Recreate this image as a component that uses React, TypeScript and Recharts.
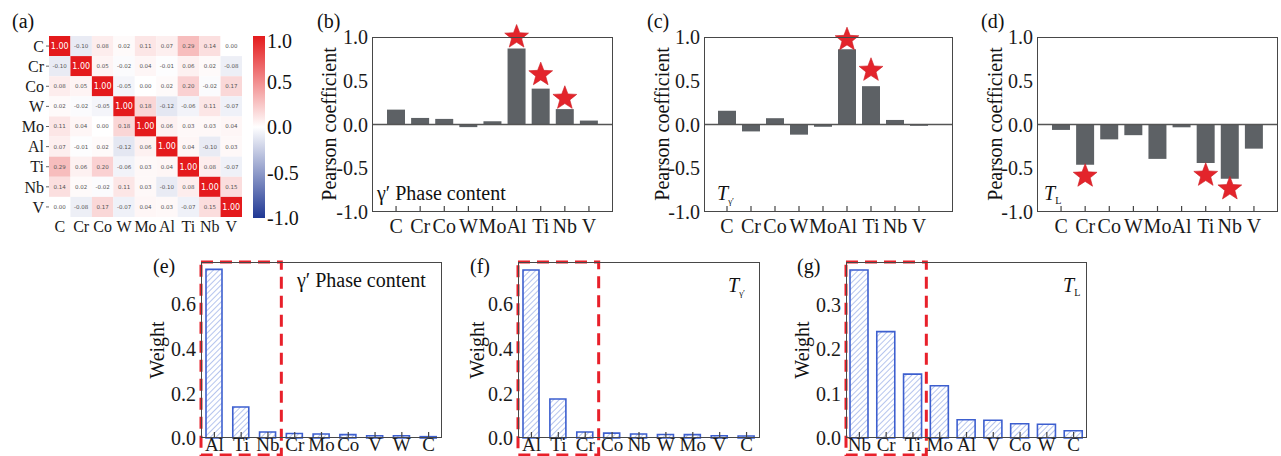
import React from 'react';
import {
  ComposedChart,
  BarChart,
  ScatterChart,
  Bar,
  Line,
  Scatter,
  XAxis,
  YAxis,
  ReferenceLine,
  ReferenceArea
} from 'recharts';

// element order used by the heatmap and the Pearson panels
const elements = ['C', 'Cr', 'Co', 'W', 'Mo', 'Al', 'Ti', 'Nb', 'V'];

// (a) correlation matrix, one row per element
const corrC = [1.0, -0.1, 0.08, 0.02, 0.11, 0.07, 0.29, 0.14, 0.0];
const corrCr = [-0.1, 1.0, 0.05, -0.02, 0.04, -0.01, 0.06, 0.02, -0.08];
const corrCo = [0.08, 0.05, 1.0, -0.05, 0.0, 0.02, 0.2, -0.02, 0.17];
const corrW = [0.02, -0.02, -0.05, 1.0, 0.18, -0.12, -0.06, 0.11, -0.07];
const corrMo = [0.11, 0.04, 0.0, 0.18, 1.0, 0.06, 0.03, 0.03, 0.04];
const corrAl = [0.07, -0.01, 0.02, -0.12, 0.06, 1.0, 0.04, -0.1, 0.03];
const corrTi = [0.29, 0.06, 0.2, -0.06, 0.03, 0.04, 1.0, 0.08, -0.07];
const corrNb = [0.14, 0.02, -0.02, 0.11, 0.03, -0.1, 0.08, 1.0, 0.15];
const corrV = [0.0, -0.08, 0.17, -0.07, 0.04, 0.03, -0.07, 0.15, 1.0];
const corrRows = [corrC, corrCr, corrCo, corrW, corrMo, corrAl, corrTi, corrNb, corrV];
const colorbarTicks = ['1.0', '0.5', '0.0', '-0.5', '-1.0'];

// (b)-(d) Pearson coefficients and star markers
const pearsonPhase = [0.17, 0.075, 0.064, -0.03, 0.037, 0.87, 0.41, 0.176, 0.045];
const starPhase = [null, null, null, null, null, 1.0, 0.57, 0.3, null];
const pearsonTgp = [0.157, -0.079, 0.072, -0.116, -0.026, 0.861, 0.438, 0.052, -0.015];
const starTgp = [null, null, null, null, null, 0.97, 0.62, null, null];
const pearsonTL = [-0.062, -0.46, -0.17, -0.122, -0.393, -0.032, -0.44, -0.62, -0.276];
const starTL = [null, -0.59, null, null, null, null, -0.58, -0.735, null];
const pearsonTicks = [-1, -0.5, 0, 0.5, 1];

// (e)-(g) weights, sorted
const namesE = ['Al', 'Ti', 'Nb', 'Cr', 'Mo', 'Co', 'V', 'W', 'C'];
const weightE = [0.757, 0.139, 0.027, 0.02, 0.018, 0.015, 0.01, 0.01, 0.006];
const namesF = ['Al', 'Ti', 'Cr', 'Co', 'Nb', 'W', 'Mo', 'V', 'C'];
const weightF = [0.754, 0.175, 0.027, 0.022, 0.018, 0.016, 0.015, 0.01, 0.009];
const namesG = ['Nb', 'Cr', 'Ti', 'Mo', 'Al', 'V', 'Co', 'W', 'C'];
const weightG = [0.379, 0.24, 0.144, 0.118, 0.041, 0.04, 0.032, 0.031, 0.0165];

const SERIF = '"Liberation Serif", "Times New Roman", serif';
const tickStyle = { fontSize: 20, fill: '#1a1a1a', fontFamily: SERIF };

function heatColor(v: number) {
  const a = Math.min(1, Math.abs(v));
  const end = v >= 0 ? [228, 26, 28] : [32, 56, 148];
  const c = end.map((e) => Math.round(255 + (e - 255) * a));
  return `rgb(${c.join(',')})`;
}

function starPath(cx: number, cy: number, ro: number, ri: number) {
  let d = '';
  for (let i = 0; i < 10; i++) {
    const r = i % 2 ? ri : ro;
    const a = -Math.PI / 2 + (i * Math.PI) / 5;
    d += (i ? 'L' : 'M') + (cx + r * Math.cos(a)).toFixed(2) + ',' + (cy + r * Math.sin(a)).toFixed(2);
  }
  return d + 'Z';
}

const StarDot = (props: any) => {
  const { cx, cy, value, index } = props;
  if (value == null || cx == null || cy == null || isNaN(cy)) return <g key={`s${index}`} />;
  return <path key={`s${index}`} d={starPath(cx, cy, 12.5, 5.3)} fill="#e3242b" stroke="#cc1d24" strokeWidth={0.6} />;
};

const Txt = ({ x, y, size = 20, children, style }: any) => (
  <div
    style={{
      position: 'absolute',
      left: x,
      top: y - size / 2,
      fontSize: size,
      lineHeight: `${size}px`,
      whiteSpace: 'nowrap',
      fontFamily: SERIF,
      color: '#111',
      ...style
    }}
  >
    {children}
  </div>
);

const VLabel = ({ x, y, children }: any) => (
  <div
    style={{
      position: 'absolute',
      left: x,
      top: y,
      fontSize: 20,
      lineHeight: '20px',
      whiteSpace: 'nowrap',
      fontFamily: SERIF,
      color: '#111',
      transform: 'translate(-50%, -50%) rotate(-90deg)'
    }}
  >
    {children}
  </div>
);

const Frame = ({ left, top, width, height }: any) => (
  <div
    style={{
      position: 'absolute',
      left,
      top,
      width,
      height,
      boxSizing: 'border-box',
      border: '1.5px solid #474747',
      pointerEvents: 'none'
    }}
  />
);

// ---------- (a) heatmap ----------
const HM_W = 250;
const HM_H = 240;
const HM_YW = 49;
const HM_TOP = 36;
const HM_PLOT_W = 193;
const HM_PLOT_H = 181;

const HeatCell = (props: any) => {
  const { cx, cy, payload } = props;
  const w = HM_PLOT_W / 9;
  const h = HM_PLOT_H / 9;
  const diag = payload.r === payload.c;
  return (
    <g>
      <rect x={cx - w / 2} y={cy - h / 2} width={w} height={h} fill={heatColor(payload.v)} />
      <text
        x={cx}
        y={cy}
        dy="0.35em"
        textAnchor="middle"
        fontSize={diag ? 8 : 5.5}
        fontFamily="DejaVu Sans, sans-serif"
        fill={diag ? '#fff' : '#555'}
      >
        {payload.v.toFixed(2)}
      </text>
    </g>
  );
};

const Heatmap = () => {
  const cells = corrRows.flatMap((row, r) => row.map((v, c) => ({ x: c, y: r, r, c, v })));
  const idx = elements.map((_, i) => i);
  return (
    <div style={{ position: 'absolute', left: 0, top: 0 }}>
      <ScatterChart
        width={HM_W}
        height={HM_H}
        margin={{ top: HM_TOP, right: HM_W - HM_YW - HM_PLOT_W, bottom: 0, left: 0 }}
      >
        <XAxis
          type="number"
          dataKey="x"
          domain={[-0.5, 8.5]}
          ticks={idx}
          interval={0}
          tickFormatter={(i: number) => elements[i]}
          axisLine={false}
          tickLine={false}
          tickSize={0}
          tickMargin={4}
          height={HM_H - HM_TOP - HM_PLOT_H}
          tick={{ ...tickStyle, fontSize: 16 }}
        />
        <YAxis
          type="number"
          dataKey="y"
          domain={[-0.5, 8.5]}
          ticks={idx}
          interval={0}
          reversed
          tickFormatter={(i: number) => elements[i]}
          axisLine={false}
          tickSize={3}
          tickMargin={2}
          tickLine={{ stroke: '#666' }}
          width={HM_YW}
          tick={{ ...tickStyle, fontSize: 16 }}
        />
        <Scatter data={cells} shape={HeatCell} isAnimationActive={false} />
      </ScatterChart>
    </div>
  );
};

const Colorbar = () => {
  const top = 36;
  const h = 182;
  return (
    <>
      <div
        style={{
          position: 'absolute',
          left: 253,
          top,
          width: 12,
          height: h,
          background: 'linear-gradient(to bottom, rgb(228,26,28), #ffffff 50%, rgb(32,56,148))'
        }}
      />
      {colorbarTicks.map((t, i) => (
        <Txt key={t} x={267} y={i === 0 ? top + 5 : top + (h * i) / 4} size={20}>
          {t}
        </Txt>
      ))}
    </>
  );
};

// ---------- (b)-(d) Pearson panels ----------
const P_TOP = 37;
const P_H = 175;
const P_YW = 60;

const PearsonPanel = ({ values, stars, boxLeft, boxRight, padL, padR }: any) => {
  const rows = elements.map((name, i) => ({ name, value: values[i], star: stars[i] }));
  const plotW = boxRight - boxLeft;
  return (
    <div style={{ position: 'absolute', left: boxLeft - P_YW, top: 0 }}>
      <ComposedChart
        width={P_YW + plotW + 2}
        height={P_TOP + P_H + 30}
        data={rows}
        margin={{ top: P_TOP, right: 2, bottom: 0, left: 0 }}
      >
        <XAxis
          dataKey="name"
          interval={0}
          padding={{ left: padL, right: padR }}
          axisLine={false}
          tickSize={-6}
          tickMargin={13}
          tickLine={{ stroke: '#444', strokeWidth: 1.2 }}
          height={30}
          tick={tickStyle}
        />
        <YAxis
          domain={[-1, 1]}
          ticks={pearsonTicks}
          interval={0}
          tickFormatter={(v: number) => v.toFixed(1)}
          axisLine={false}
          tickLine={false}
          tickSize={0}
          tickMargin={4}
          width={P_YW}
          tick={tickStyle}
        />
        <ReferenceLine y={0} stroke="#555" strokeWidth={1.3} />
        <Bar dataKey="value" fill="#5d6165" barSize={18} isAnimationActive={false} />
        <Line
          dataKey="star"
          stroke="none"
          dot={StarDot}
          activeDot={false}
          legendType="none"
          isAnimationActive={false}
        />
      </ComposedChart>
      <Frame left={P_YW} top={P_TOP} width={plotW} height={P_H} />
    </div>
  );
};

// ---------- (e)-(g) weight panels ----------
const W_TOP = 22;
const W_H = 176;
const W_YW = 60;

const WeightPanel = ({ names, values, boxLeft, boxRight, yMax, yTicks, barSize }: any) => {
  const rows = names.map((name: string, i: number) => ({ name, value: values[i] }));
  const plotW = boxRight - boxLeft;
  // dashed box runs ~17px under the axis
  const below = (-yMax * 17) / W_H;
  return (
    <div style={{ position: 'absolute', left: boxLeft - W_YW, top: 240 }}>
      <BarChart
        width={W_YW + plotW + 2}
        height={W_TOP + W_H + 18}
        data={rows}
        margin={{ top: W_TOP, right: 2, bottom: 0, left: 0 }}
      >
        <XAxis
          dataKey="name"
          interval={0}
          axisLine={false}
          tickSize={-6}
          tickMargin={6}
          tickLine={{ stroke: '#444', strokeWidth: 1.2 }}
          height={18}
          tick={{ ...tickStyle, fontSize: 19 }}
        />
        <YAxis
          domain={[0, yMax]}
          ticks={yTicks}
          interval={0}
          tickFormatter={(v: number) => v.toFixed(1)}
          axisLine={false}
          tickLine={false}
          tickSize={0}
          tickMargin={5}
          width={W_YW}
          tick={tickStyle}
        />
        <Bar
          dataKey="value"
          fill="url(#hatch)"
          stroke="#3d5fcf"
          strokeWidth={1.6}
          barSize={barSize}
          isAnimationActive={false}
        />
        <ReferenceArea
          x1={names[0]}
          x2={names[2]}
          y1={below}
          y2={yMax}
          ifOverflow="visible"
          fill="none"
          fillOpacity={0}
          stroke="#e8202a"
          strokeWidth={3}
          strokeDasharray="12 7"
        />
      </BarChart>
      <Frame left={W_YW} top={W_TOP} width={plotW} height={W_H} />
    </div>
  );
};

const Tgp = ({ x, y }: any) => (
  <Txt x={x} y={y} size={20}>
    <i>T</i>
    <span style={{ fontSize: 9, position: 'relative', top: 4 }}>γ′</span>
  </Txt>
);

const TL = ({ x, y }: any) => (
  <Txt x={x} y={y} size={20}>
    <i>T</i>
    <span style={{ fontSize: 10, position: 'relative', top: 4 }}>L</span>
  </Txt>
);

export default function App() {
  return (
    <div
      style={{
        position: 'absolute',
        left: 0,
        top: 0,
        width: 1281,
        height: 456,
        overflow: 'hidden',
        background: '#fff',
        fontFamily: SERIF
      }}
    >
      <svg width={0} height={0} style={{ position: 'absolute' }}>
        <defs>
          <pattern id="hatch" patternUnits="userSpaceOnUse" width={4} height={4} patternTransform="rotate(45)">
            <rect width={4} height={4} fill="#ffffff" />
            <line x1={0} y1={0} x2={0} y2={4} stroke="#8ea6e6" strokeWidth={1.3} />
          </pattern>
        </defs>
      </svg>

      <Heatmap />
      <Colorbar />
      <Txt x={12} y={21}>(a)</Txt>

      <PearsonPanel values={pearsonPhase} stars={starPhase} boxLeft={372} boxRight={613} padL={12} padR={12} />
      <VLabel x={329} y={124}>Pearson coefficient</VLabel>
      <Txt x={317} y={21}>(b)</Txt>
      <Txt x={377} y={193}>γ′ Phase content</Txt>

      <PearsonPanel values={pearsonTgp} stars={starTgp} boxLeft={704} boxRight={953} padL={11} padR={22} />
      <VLabel x={662} y={124}>Pearson coefficient</VLabel>
      <Txt x={647} y={21}>(c)</Txt>
      <Tgp x={717} y={193} />

      <PearsonPanel values={pearsonTL} stars={starTL} boxLeft={1037} boxRight={1278} padL={12} padR={12} />
      <VLabel x={995} y={124}>Pearson coefficient</VLabel>
      <Txt x={981} y={21}>(d)</Txt>
      <TL x={1044} y={193} />

      <WeightPanel names={namesE} values={weightE} boxLeft={201} boxRight={442} yMax={0.79} yTicks={[0, 0.2, 0.4, 0.6]} barSize={16} />
      <VLabel x={157} y={350}>Weight</VLabel>
      <Txt x={153} y={266}>(e)</Txt>
      <Txt x={297} y={280}>γ′ Phase content</Txt>

      <WeightPanel names={namesF} values={weightF} boxLeft={518} boxRight={760} yMax={0.79} yTicks={[0, 0.2, 0.4, 0.6]} barSize={16} />
      <VLabel x={477} y={350}>Weight</VLabel>
      <Txt x={470} y={266}>(f)</Txt>
      <Tgp x={728} y={285} />

      <WeightPanel names={namesG} values={weightG} boxLeft={846} boxRight={1087} yMax={0.397} yTicks={[0, 0.1, 0.2, 0.3]} barSize={18} />
      <VLabel x={802} y={350}>Weight</VLabel>
      <Txt x={797} y={266}>(g)</Txt>
      <TL x={1063} y={285} />
    </div>
  );
}
